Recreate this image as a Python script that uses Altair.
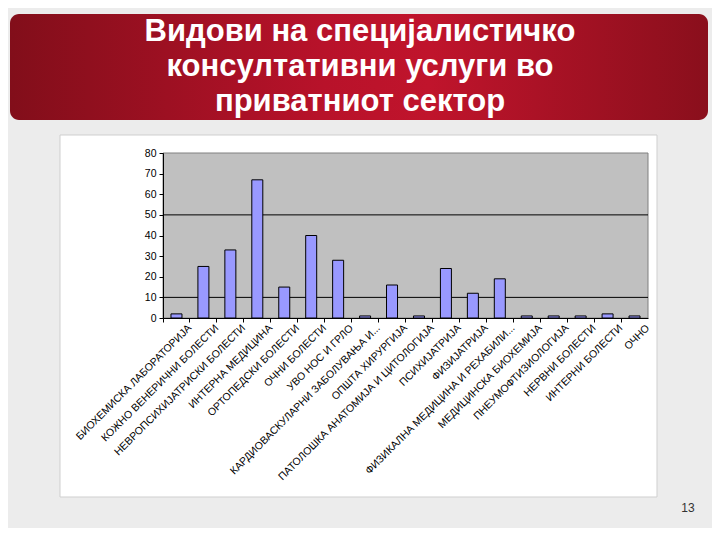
import altair as alt
import pandas as pd

title_lines = ["Видови на специјалистичко", "консултативни услуги во", "приватниот сектор"]
categories = [
    "БИОХЕМИСКА ЛАБОРАТОРИЈА",
    "КОЖНО ВЕНЕРИЧНИ БОЛЕСТИ",
    "НЕВРОПСИХИЈАТРИСКИ БОЛЕСТИ",
    "ИНТЕРНА МЕДИЦИНА",
    "ОРТОПЕДСКИ БОЛЕСТИ",
    "ОЧНИ БОЛЕСТИ",
    "УВО НОС И ГРЛО",
    "КАРДИОВАСКУЛАРНИ ЗАБОЛУВАЊА И...",
    "ОПШТА ХИРУРГИЈА",
    "ПАТОЛОШКА АНАТОМИЈА И ЦИТОЛОГИЈА",
    "ПСИХИЈАТРИЈА",
    "ФИЗИЈАТРИЈА",
    "ФИЗИКАЛНА МЕДИЦИНА И РЕХАБИЛИ...",
    "МЕДИЦИНСКА БИОХЕМИЈА",
    "ПНЕУМОФТИЗИОЛОГИЈА",
    "НЕРВНИ БОЛЕСТИ",
    "ИНТЕРНИ БОЛЕСТИ",
    "ОЧНО",
]
values = [2, 25, 33, 67, 15, 40, 28, 1, 16, 1, 24, 12, 19, 1, 1, 1, 2, 1]
y_ticks = [0, 10, 20, 30, 40, 50, 60, 70, 80]
grid_values = [10, 50]
page_number = "13"

FONT = "Liberation Sans"
W, H = 485, 165

df = pd.DataFrame({"cat": categories, "val": values})
one = alt.Data(values=[{}])

xenc = alt.X(
    "cat:N",
    sort=categories,
    scale=alt.Scale(paddingInner=0, paddingOuter=0),
    axis=alt.Axis(
        title=None, bandPosition=0, labelOffset=W / len(categories) / 2,
        labelAngle=-45, labelAlign="right", labelBaseline="middle",
        labelFont=FONT, labelFontSize=10.5, labelColor="black",
        labelOverlap=False, labelLimit=300, labelPadding=4,
        domainColor="black", tickColor="black", tickSize=4, zindex=1,
    ),
)
yscale = alt.Scale(domain=[0, 80], nice=False)
yaxis = alt.Axis(
    title=None, values=y_ticks, grid=False, labelFont=FONT, labelFontSize=10.5,
    labelColor="black", domainColor="black", tickColor="black", tickSize=4,
    labelPadding=3, labelOverlap=False, labelFlush=False, zindex=1,
)
yenc = alt.Y("val:Q", scale=yscale, axis=yaxis)

white_box = alt.Chart(one).mark_rect(fill="white", stroke="#cfcfcf", strokeWidth=1).encode(
    x=alt.value(-103), x2=alt.value(494), y=alt.value(-18), y2=alt.value(344)
)
banner = alt.Chart(one).mark_rect(
    cornerRadius=9,
    color=alt.LinearGradient(
        gradient="linear", x1=0, x2=1, y1=0, y2=0,
        stops=[
            alt.GradientStop(color="#820e1a", offset=0),
            alt.GradientStop(color="#b8122a", offset=0.45),
            alt.GradientStop(color="#c0142c", offset=0.6),
            alt.GradientStop(color="#8a0f1c", offset=1),
        ],
    ),
).encode(x=alt.value(-153), x2=alt.value(545), y=alt.value(-139), y2=alt.value(-33))
title = alt.Chart(one).mark_text(
    text=title_lines, lineHeight=35, baseline="top", align="center",
    font=FONT, fontSize=31, fontWeight="bold", color="white",
).encode(x=alt.value(197), y=alt.value(-136))
plot_bg = alt.Chart(one).mark_rect(fill="#c0c0c0", stroke="#808080", strokeWidth=1).encode(
    x=alt.value(0), x2=alt.value(W), y=alt.value(0), y2=alt.value(H)
)
grid = alt.Chart(pd.DataFrame({"g": grid_values})).mark_rule(color="black", strokeWidth=1).encode(
    y=alt.Y("g:Q", scale=yscale, axis=yaxis), x=alt.value(0), x2=alt.value(W)
)
bars = alt.Chart(df).mark_bar(size=11, fill="#9999ff", stroke="black", strokeWidth=1).encode(
    x=xenc, y=yenc
)
pnum = alt.Chart(one).mark_text(
    text=page_number, font=FONT, fontSize=12, color="#333333", align="center", baseline="middle"
).encode(x=alt.value(525), y=alt.value(355))

chart = alt.layer(white_box, banner, title, plot_bg, grid, bars, pnum).properties(
    width=W, height=H,
    autosize=alt.AutoSizeParams(type="none"),
    padding={"left": 155, "top": 145, "right": 64, "bottom": 210},
    background="#ececec",
).configure_view(stroke=None)

chart.save("out.html", embed_options={"renderer": "svg", "actions": False})
